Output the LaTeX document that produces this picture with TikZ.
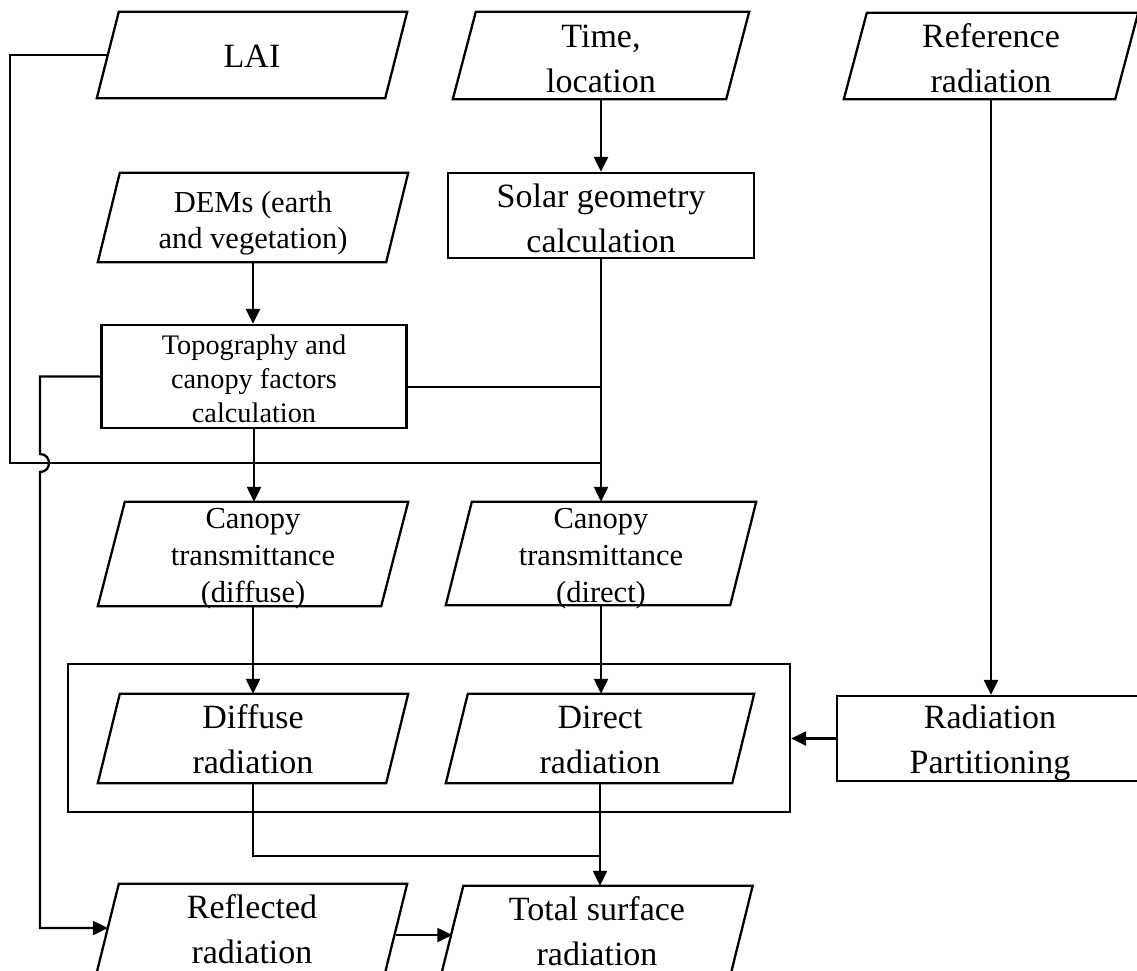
\documentclass[tikz,border=0pt]{standalone}
\usepackage{fontspec}
\setmainfont{Liberation Serif}
\usetikzlibrary{arrows.meta,calc}
\tikzset{
  box/.style={line width=2.3pt, draw=black},
  line/.style={line width=2.3pt, draw=black},
  arr/.style={line width=2.3pt, draw=black, -{Triangle[length=15pt,width=14pt]}},
  pgeo/.style={draw=none, inner sep=0pt, shape=rectangle},
  ptxt/.style={align=center, inner sep=0pt, text=black},
  rbox/.style={draw=black, line width=2.3pt, inner sep=0pt, shape=rectangle},
  fA/.style={font=\fontsize{34pt}{45pt}\selectfont},
  fB/.style={font=\fontsize{30.5pt}{36pt}\selectfont},
  fC/.style={font=\fontsize{28.3pt}{34pt}\selectfont},
  fD/.style={font=\fontsize{30.5pt}{37pt}\selectfont},
}
% name, x, y, w, h, half slant, text, font style, text shift down
\newcommand{\pbox}[9]{%
  \node[pgeo, minimum width=#4pt, minimum height=#5pt, label={[ptxt,#8,yshift=-#9pt]center:{#7}}] (#1) at (#2,#3) {};
  \draw[box] ([xshift=#6pt]#1.north west) -- ([xshift=#6pt]#1.north east) -- ([xshift=-#6pt]#1.south east) -- ([xshift=-#6pt]#1.south west) -- cycle;
}
\begin{document}
\begin{tikzpicture}[x=1pt,y=-1pt]
\useasboundingbox (0,0) rectangle (1137,971);

% container
\node[rbox, minimum width=722pt, minimum height=148pt] (cont) at (429,738) {};

% parallelograms
\pbox{lai}{252}{55}{288}{86}{11}{LAI}{fA}{1}
\pbox{time}{601}{55.5}{273}{87}{11.5}{Time,\\location}{fA}{3}
\pbox{ref}{991}{56}{271}{86}{11.5}{Reference\\radiation}{fA}{2}
\pbox{dem}{253}{217.5}{288}{89}{11}{DEMs (earth\\and vegetation)}{fB}{6}
\pbox{cdiff}{253}{554}{283}{104}{13.5}{Canopy\\transmittance\\(diffuse)}{fD}{5}
\pbox{cdir}{601}{553.5}{284}{103}{13}{Canopy\\transmittance\\(direct)}{fD}{5}
\pbox{diff}{253}{738.5}{288}{89}{11}{Diffuse\\radiation}{fA}{1}
\pbox{dir}{600}{738.5}{286}{89}{11}{Direct\\radiation}{fA}{1}
\pbox{refl}{252}{928}{288}{88}{11}{Reflected\\radiation}{fA}{1}
\pbox{total}{597}{930}{289}{88}{11}{Total surface\\radiation}{fA}{1}

% rectangles
\node[rbox, minimum width=306pt, minimum height=85pt, label={[ptxt,fA,yshift=-3pt]center:{Solar geometry\\calculation}}] (solar) at (601,215.5) {};
\node[rbox, minimum width=305pt, minimum height=103pt, label={[ptxt,fC,yshift=-2pt]center:{Topography and\\canopy factors\\calculation}}] (topo) at (254,376.5) {};
\node[rbox, minimum width=306pt, minimum height=85pt, label={[ptxt,fA,yshift=-4pt]center:{Radiation\\Partitioning}}] (part) at (990,738.5) {};

% junction coordinates
\coordinate (jA) at (601,463);
\coordinate (jB) at (601,387);
\coordinate (jC) at (601,856);
\coordinate (lcorner) at (10,463);
\coordinate (hop) at (40,463);

% connectors
\draw[arr] (time.south) -- (time.south |- solar.north);
\draw[arr] (solar.south) -- (solar.south |- cdir.north);
\draw[line] (lai.west) -| (lcorner) -- (jA);
\draw[line] (jB -| topo.east) -- (jB);
\draw[arr] (dem.south) -- (dem.south |- topo.north);
\draw[arr] (topo.south) -- (topo.south |- cdiff.north);
\draw[arr] (topo.west) -- (topo.west -| hop) -- ([yshift=9pt]hop)
  .. controls ([xshift=12pt,yshift=9pt]hop) and ([xshift=12pt,yshift=-9pt]hop) .. ([yshift=-9pt]hop)
  -- (hop |- refl.west) -- (refl.west);
\draw[arr] (cdiff.south) -- (cdiff.south |- diff.north);
\draw[arr] (cdir.south) -- (cdir.south |- dir.north);
\draw[arr] (ref.south) -- (ref.south |- part.north);
\draw[arr] (part.west) -- (part.west -| cont.east);
\draw[line] (diff.south) |- (jC);
\draw[arr] (dir.south) -- (dir.south |- total.north);
\draw[arr] ([yshift=-7pt]refl.east) -- ([yshift=-7pt]refl.east -| total.west);
\end{tikzpicture}
\end{document}
